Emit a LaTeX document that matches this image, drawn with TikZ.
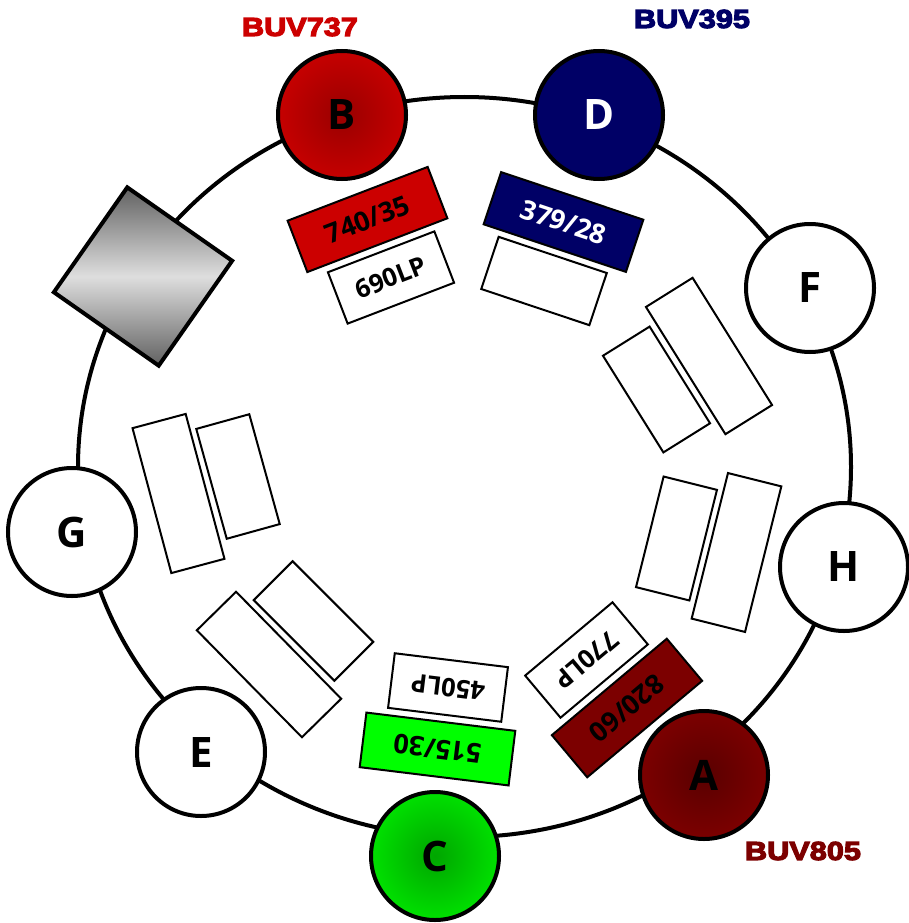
\documentclass[tikz,border=0pt]{standalone}
\usepackage{fontspec}
\setmainfont{Open Sans}
\newfontfamily\heavyfont[FakeBold=4.5,FakeStretch=1.18]{Liberation Sans Bold}
\definecolor{cRed}{HTML}{CC0000}
\definecolor{cNavy}{HTML}{000066}
\definecolor{cMaroon}{HTML}{7C0000}
\definecolor{cGreen}{HTML}{00FF00}
\tikzset{
  x=1pt,y=-1pt,
  port/.style={circle,draw=black,line width=4pt,fill=white,minimum size=128pt,inner sep=0pt,
    font=\fontsize{42}{42}\selectfont\bfseries},
  filt/.style={rectangle,draw=black,line width=2pt,fill=white,inner sep=0pt,minimum height=55pt,
    font=\fontsize{27}{27}\selectfont\bfseries},
  longf/.style={filt,minimum width=150pt},
  shortf/.style={filt,minimum width=114pt,font=\fontsize{25.5}{26}\selectfont\bfseries},
  dye/.style={font=\heavyfont\fontsize{26}{26}\selectfont},
}
\begin{document}
\begin{tikzpicture}
\useasboundingbox (0,0) rectangle (908,923);
\coordinate (ringc) at (464.5,467);
\draw[line width=4pt] (ringc) ellipse [x radius=386.5pt,y radius=370pt];

\node[port,inner color=black!25!cRed,outer color=cRed!97!black] (B) at (342,115) {B};
\node[port,fill=cNavy,text=white] (D) at (599,115) {D};
\node[port] (F) at (810,288) {F};
\node[port] (H) at (844,567) {H};
\node[port,inner color=cMaroon!72!black,outer color=cMaroon] (A) at (704,775) {A};
\node[port,inner color=black!35!cGreen,outer color=cGreen!88!black] (C) at (435,856) {C};
\node[port] (E) at (201,752) {E};
\node[port] (G) at (72,532) {G};

\node[rectangle,draw=black,line width=4pt,minimum size=128pt,inner sep=0pt,rotate=-35,
  top color=black!62,bottom color=black!62,middle color=black!13,shading angle=0] (mirror) at (143,276.5) {};

\node[longf,fill=cRed,rotate=21] (f740) at (367.5,219.5) {740/35};
\node[shortf,rotate=21] (f690) at (391,277.5) {690LP};
\node[longf,fill=cNavy,text=white,rotate=-18.5] (f379) at (563.5,222) {379/28};
\node[shortf,rotate=-18.5] (fD) at (544,281) {};
\node[longf,rotate=-58] (fF1) at (709,356) {};
\node[shortf,rotate=-58] (fF2) at (656.5,389.5) {};
\node[longf,rotate=76] (fH1) at (736.5,552.5) {};
\node[shortf,rotate=76] (fH2) at (676.5,538.5) {};
\node[shortf,rotate=220] (f770) at (586.5,660) {770LP};
\node[longf,fill=cMaroon,rotate=220] (f820) at (627,708) {820/60};
\node[shortf,rotate=173] (f450) at (448,687.5) {450LP};
\node[longf,fill=cGreen,rotate=173] (f515) at (437.5,749) {515/30};
\node[longf,rotate=-45.5] (fE1) at (269,664.5) {};
\node[shortf,rotate=-45] (fE2) at (313.5,621) {};
\node[longf,rotate=-75] (fG1) at (178.5,493.5) {};
\node[shortf,rotate=-74.5] (fG2) at (238,476.5) {};

\node[dye,text=cRed] (l737) at (300,27) {BUV737};
\node[dye,text=cNavy] (l395) at (692,19) {BUV395};
\node[dye,text=cMaroon] (l805) at (803,851) {BUV805};
\end{tikzpicture}
\end{document}
